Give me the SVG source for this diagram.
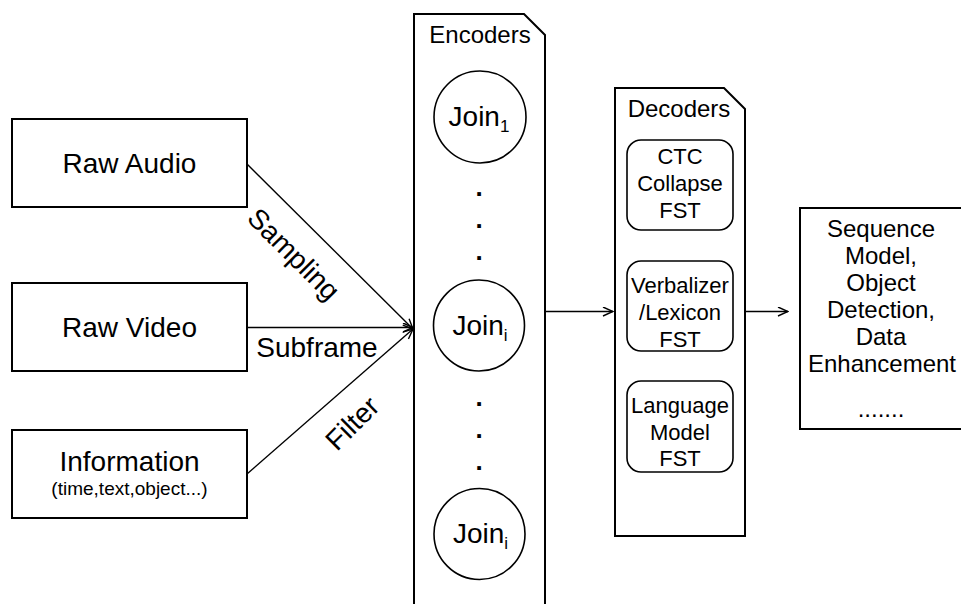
<svg xmlns="http://www.w3.org/2000/svg" width="961" height="604" viewBox="0 0 961 604">
<defs>
<style>
text{font-family:"Liberation Sans",Arial,sans-serif;fill:#000;text-anchor:middle}
.box{fill:#fff;stroke:#000;stroke-width:2}
.circ{fill:#fff;stroke:#000;stroke-width:1.6}
.rr{fill:#fff;stroke:#000;stroke-width:1.6}
.edge{fill:none;stroke:#000;stroke-width:1.4}
.big{font-size:28px}
.mid{font-size:24px}
.fst{font-size:22px}
.join{font-size:28px}
.sub{font-size:17px}
.dot{font-size:26px;font-weight:bold}
</style>
<marker id="arr" markerWidth="12" markerHeight="12" refX="11" refY="5" orient="auto" markerUnits="userSpaceOnUse">
<path d="M1,0.5 L11,5 L1,9.5" fill="none" stroke="#000" stroke-width="1.4"/>
</marker>
</defs>
<rect width="961" height="604" fill="#fff"/>

<g id="raw-audio">
<rect class="box" x="12" y="119" width="235" height="88"/>
<text class="big" x="129.5" y="173">Raw Audio</text>
</g>
<g id="raw-video">
<rect class="box" x="12" y="283" width="235" height="88"/>
<text class="big" x="129.5" y="337">Raw Video</text>
</g>
<g id="information">
<rect class="box" x="12" y="430" width="235" height="88"/>
<text class="big" x="129.5" y="471">Information</text>
<text x="129.5" y="495" font-size="19">(time,text,object...)</text>
</g>

<g id="encoders">
<path class="box" d="M414,14 H524 L545,35 V612 H414 Z"/>
<text class="mid" x="480" y="43">Encoders</text>
<g id="join1">
<circle class="circ" cx="480" cy="117" r="46"/>
<text class="join" x="479" y="126">Join<tspan class="sub" dy="6">1</tspan></text>
</g>
<text class="dot" x="479" y="196">.</text>
<text class="dot" x="479" y="228">.</text>
<text class="dot" x="479" y="260">.</text>
<g id="joini-a">
<circle class="circ" cx="479" cy="325.5" r="45.5"/>
<text class="join" x="480" y="335">Join<tspan class="sub" dy="6">i</tspan></text>
</g>
<text class="dot" x="479" y="406">.</text>
<text class="dot" x="479" y="438">.</text>
<text class="dot" x="479" y="470">.</text>
<g id="joini-b">
<circle class="circ" cx="479.5" cy="534" r="45.5"/>
<text class="join" x="480.5" y="543">Join<tspan class="sub" dy="6">i</tspan></text>
</g>
</g>

<g id="decoders">
<path class="box" d="M615,88 H724 L745,109 V536 H615 Z"/>
<text class="mid" x="679" y="117">Decoders</text>
<g id="ctc">
<rect class="rr" x="627" y="140" width="106" height="90" rx="14"/>
<text class="fst" x="680" y="164">CTC</text>
<text class="fst" x="680" y="191">Collapse</text>
<text class="fst" x="680" y="218">FST</text>
</g>
<g id="verbalizer">
<rect class="rr" x="627" y="261" width="106" height="90" rx="14"/>
<text class="fst" x="680" y="293">Verbalizer</text>
<text class="fst" x="680" y="320">/Lexicon</text>
<text class="fst" x="680" y="347">FST</text>
</g>
<g id="language">
<rect class="rr" x="627" y="381" width="106" height="91" rx="14"/>
<text class="fst" x="680" y="413">Language</text>
<text class="fst" x="680" y="440">Model</text>
<text class="fst" x="680" y="466">FST</text>
</g>
</g>

<g id="output">
<rect class="box" x="800" y="208" width="165" height="221"/>
<text class="mid" x="881" y="237">Sequence</text>
<text class="mid" x="881" y="264">Model,</text>
<text class="mid" x="881" y="291">Object</text>
<text class="mid" x="881" y="318">Detection,</text>
<text class="mid" x="881" y="345">Data</text>
<text class="mid" x="882" y="372">Enhancement</text>
<text class="mid" x="881" y="417">.......</text>
</g>

<g id="connectors">
<line class="edge" x1="247" y1="164" x2="413" y2="329" marker-end="url(#arr)"/>
<line class="edge" x1="247" y1="327.5" x2="413" y2="327.5" marker-end="url(#arr)"/>
<line class="edge" x1="247" y1="474" x2="413" y2="329" marker-end="url(#arr)"/>
<line class="edge" x1="545" y1="311.5" x2="613" y2="311.5" marker-end="url(#arr)"/>
<line class="edge" x1="745" y1="311.5" x2="788" y2="311.5" marker-end="url(#arr)"/>
<text class="big" transform="translate(294,254) rotate(45)" y="10">Sampling</text>
<text class="big" x="317" y="357">Subframe</text>
<text class="big" transform="translate(352,423) rotate(-45)" y="10">Filter</text>
</g>
</svg>
